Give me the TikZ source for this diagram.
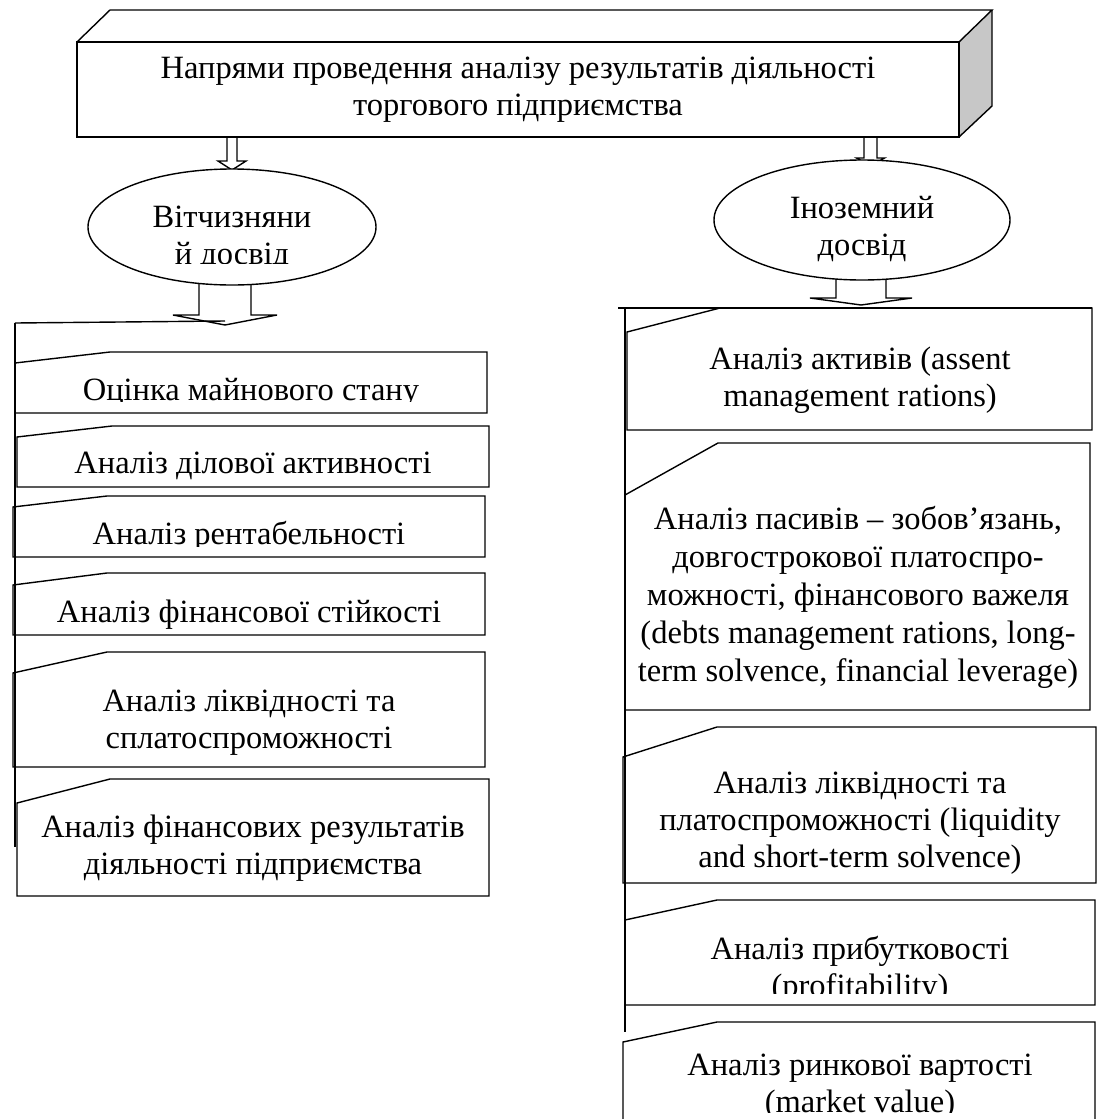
\documentclass[tikz,border=0pt]{standalone}
\usepackage{fontspec}
\setmainfont{Liberation Serif}
\usetikzlibrary{shapes.geometric}
\newcommand{\barrow}[6]{\draw[blk] (#1-#2,#4) -- (#1+#2,#4) -- (#1+#2,#5) -- (#1+#3,#5) -- (#1,#6) -- (#1-#3,#5) -- (#1-#2,#5) -- cycle;}
\newcommand{\cbox}[6]{\draw[fill=white] (#1,#5) -- (#6,#2) -- (#4,#2) -- (#4,#3) -- (#1,#3) -- cycle;}
\begin{document}
\begin{tikzpicture}[x=1pt,y=-1pt,line width=1.4pt,line join=miter,
  txt/.style={font=\fontsize{32.5}{37}\selectfont, align=center, inner sep=0pt, anchor=north},
  blk/.style={draw, fill=white},
  ell/.style={draw, ellipse, fill=white, inner sep=0pt}]
\useasboundingbox (0,0) rectangle (1098,1119);
\fill[white] (0,0) rectangle (1098,1119);

% block arrows (drawn first, partly hidden)
\barrow{232}{5}{14}{137}{161}{170}
\barrow{870.5}{6.5}{14}{137}{158}{166}
\barrow{225}{26}{52}{270}{315}{325}
\barrow{861}{25}{51}{265}{298}{305}

% top 3D box
\fill[black!22] (959,42) -- (992,10) -- (992,106) -- (959,137) -- cycle;
\draw (77,42) -- (110,10) -- (992,10) -- (959,42);
\draw (959,137) -- (992,106) -- (992,10);
\node[draw, fill=white, minimum width=882pt, minimum height=95pt, inner sep=0pt,
  font=\fontsize{32.5}{37}\selectfont, align=center] (title) at (518,89.5)
  {Напрями проведення аналізу результатів діяльності\\торгового підприємства};

% ellipses
\node[ell, minimum width=288pt, minimum height=116pt] (dom) at (232,227) {};
\begin{scope}
\clip (80,150) rectangle (390,263);
\node[txt] (domtext) at (232,205) {Вітчизняни\\й досвід};
\end{scope}
\node[ell, minimum width=296pt, minimum height=120pt] (for) at (862,220) {};
\node[txt] (fortext) at (862,196) {Іноземний\\досвід};

% left list
\cbox{15}{352}{413}{487}{363}{110}
\cbox{17}{426}{487}{489}{437}{112}
\cbox{13}{496}{557}{485}{507}{107}
\cbox{13}{573}{635}{485}{585}{107}
\cbox{13}{652}{767}{485}{673}{107}
\cbox{17}{779}{896}{489}{803}{110}
\draw (15,323) -- (225,321);
\draw (15,323) -- (15,847);

\begin{scope}
\clip (20,360) rectangle (480,401);
\node[txt] (l1) at (251,378) {Оцінка майнового стану};
\end{scope}
\node[txt] (l2) at (253,451) {Аналіз ділової активності};
\begin{scope}
\clip (20,505) rectangle (480,546);
\node[txt] (l3) at (249,521) {Аналіз рентабельності};
\end{scope}
\node[txt] (l4) at (249,599) {Аналіз фінансової стійкості};
\node[txt] (l5) at (249,689) {Аналіз ліквідності та\\сплатоспроможності};
\node[txt] (l6) at (253,814) {Аналіз фінансових результатів\\діяльності підприємства};

% right list
\cbox{627}{308}{430}{1092}{332}{720}
\cbox{625}{443}{710}{1090}{495}{718}
\cbox{623}{727}{883}{1096}{757}{717}
\cbox{625}{900}{1005}{1095}{920}{717}
\cbox{623}{1022}{1122}{1095}{1042}{717}
\draw (618,308) -- (1092,308);
\draw (625,308) -- (625,1032);

\node[txt] (r1) at (860,346) {Аналіз активів (assent\\management rations)};
\node[txt, font=\fontsize{32.5}{38}\selectfont] (r2) at (858,506) {Аналіз пасивів – зобов’язань,\\довгострокової платоспро-\\можності, фінансового важеля\\(debts management rations, long-\\term solvence, financial leverage)};
\node[txt] (r3) at (860,771) {Аналіз ліквідності та\\платоспроможності (liquidity\\and short-term solvence)};
\begin{scope}
\clip (630,925) rectangle (1090,993);
\node[txt] (r4) at (860,936) {Аналіз прибутковості\\(profitability)};
\end{scope}
\begin{scope}
\clip (630,1045) rectangle (1090,1112);
\node[txt] (r5) at (860,1053) {Аналіз ринкової вартості\\(market value)};
\end{scope}
\end{tikzpicture}
\end{document}
